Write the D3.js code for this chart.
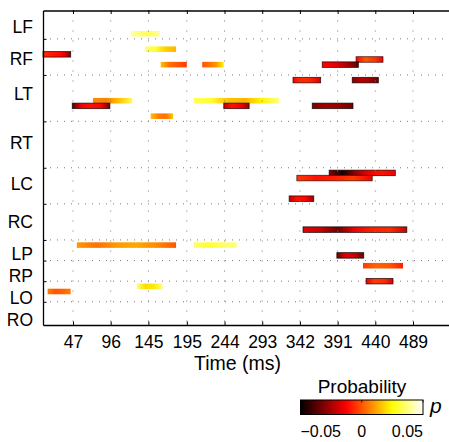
<!DOCTYPE html>
<html><head><meta charset="utf-8">
<script src="https://cdn.jsdelivr.net/npm/d3@7"></script>
<style>
html,body{margin:0;padding:0;background:#fff;}
svg{display:block;font-family:"Liberation Sans",Arial,sans-serif;}
</style></head>
<body>
<svg id="chart" width="449" height="442"></svg>
<script>
// ---------- data ----------
const regions = ["LF","RF","LT","RT","LC","RC","LP","RP","LO","RO"];
const regionLabelRows = [3.2, 9.4, 16.1, 25.7, 33.5, 41, 47.1, 51.5, 55.8, 60];
const gridRows = [5, 12, 21, 30, 37, 44, 48, 52, 56];
const timeTicks = [47, 96, 145, 195, 244, 293, 342, 391, 440, 489];
const colorTicks = [-0.05, 0, 0.05];
const colorTickLabels = ["\u22120.05", "0", "0.05"];

// one entry per bar: channel row, start (ms), end (ms), probability values along the bar
const barRows   = [4, 7, 8, 10, 10, 9, 10, 13, 13, 17, 17, 18, 18, 18, 20, 31, 32, 36, 42, 45, 45, 47, 49, 52, 53, 54];
const barStarts = [122, 141, 8, 161, 215, 415, 371, 333, 410, 73, 204, 46, 243, 358, 148, 380, 338, 328, 346, 52, 204, 390, 424, 428, 130, 14];
const barEnds   = [160, 181, 44, 195, 243, 450, 418, 369, 444, 124, 315, 95, 276, 411, 177, 466, 436, 360, 481, 181, 260, 425, 476, 463, 163, 44];
const barValues = [
  [0.042, 0.036, 0.034, 0.042],
  [0.036, 0.03, 0.018, 0.014],
  [-0.006, -0.009, -0.012, -0.03],
  [0.016, 0.004, 0.0, -0.004],
  [0.0, 0.004, 0.01, 0.024],
  [-0.012, 0.0, -0.004, -0.014],
  [-0.012, -0.016, -0.024, -0.036],
  [-0.012, -0.006, -0.008, -0.018],
  [-0.03, -0.024, -0.026, -0.034],
  [0.008, 0.006, 0.016, 0.034],
  [0.034, 0.03, 0.016, 0.014, 0.024, 0.038],
  [-0.038, -0.014, -0.01, -0.012, -0.034],
  [-0.022, -0.01, -0.014, -0.028],
  [-0.032, -0.026, -0.028, -0.034],
  [0.016, 0.006, 0.004, 0.016],
  [-0.03, -0.046, -0.028, -0.014, -0.01, -0.014],
  [-0.004, -0.01, -0.008, -0.004, -0.014],
  [-0.022, -0.01, -0.012, -0.026],
  [-0.016, -0.02, -0.034, -0.014, -0.008, -0.006, -0.02],
  [0.01, 0.004, 0.01, 0.012, 0.008, 0.0],
  [0.036, 0.03, 0.034, 0.038],
  [-0.034, -0.016, -0.02, -0.034],
  [-0.004, 0.002, 0.0, -0.008],
  [-0.016, -0.004, -0.006, -0.018],
  [0.036, 0.02, 0.022, 0.036],
  [0.006, 0.0, 0.002, 0.006]
];

// ---------- helpers ----------
function hot(v) {
  const t = Math.max(0, Math.min(1, (v + 0.05) / 0.1));
  const r = Math.min(1, t / 0.375);
  const g = Math.max(0, Math.min(1, (t - 0.375) / 0.375));
  const b = Math.max(0, Math.min(1, (t - 0.75) / 0.25));
  return d3.rgb(r * 255, g * 255, b * 255).formatHex();
}

const svg = d3.select("#chart");
const defs = svg.append("defs");

const x = d3.scaleLinear().domain([8, 544]).range([43, 455.3]);
const y = d3.scaleLinear().domain([0, 61]).range([10.5, 325]);

// ---------- bars ----------
const bars = barRows.map((r, i) => ({row: r, s: barStarts[i], e: barEnds[i], vals: barValues[i], id: "g" + i}));

bars.forEach(b => {
  const g = defs.append("linearGradient").attr("id", b.id)
    .attr("x1", "0%").attr("x2", "100%").attr("y1", "0%").attr("y2", "0%");
  b.vals.forEach((v, j) => {
    g.append("stop").attr("offset", (j / (b.vals.length - 1) * 100) + "%").attr("stop-color", hot(v));
  });
});

svg.append("g").selectAll("rect").data(bars).join("rect")
  .attr("x", d => x(d.s))
  .attr("width", d => x(d.e) - x(d.s))
  .attr("y", d => y(d.row) - 0.2)
  .attr("height", d => y(d.row + 1) - y(d.row) + 0.4)
  .attr("fill", d => `url(#${d.id})`)
  .attr("stroke", d => hot(d3.min(d.vals) - 0.03))
  .attr("stroke-opacity", d => d3.mean(d.vals) < -0.006 ? 0.8 : 0)
  .attr("stroke-width", 0.8);

// ---------- grid ----------
const grid = svg.append("g").attr("stroke", "#7a7a7a").attr("stroke-width", 1);
grid.selectAll("line.h").data(gridRows).join("line").attr("class", "h")
  .attr("x1", x.range()[0]).attr("x2", x.range()[1])
  .attr("y1", d => y(d + 0.5)).attr("y2", d => y(d + 0.5))
  .attr("stroke-dasharray", "1,6");
grid.selectAll("line.v").data(timeTicks).join("line").attr("class", "v")
  .attr("x1", d => x(d)).attr("x2", d => x(d))
  .attr("y1", y.range()[0]).attr("y2", y.range()[1])
  .attr("stroke-dasharray", "1,9");

// ---------- axes ----------
const axB = svg.append("g").attr("transform", `translate(0,${y.range()[1]})`)
  .call(d3.axisBottom(x).tickValues(timeTicks).tickSizeInner(-3.5).tickSizeOuter(0).tickPadding(11).tickFormat(d3.format("d")));
const axT = svg.append("g").attr("transform", `translate(0,${y.range()[0]})`)
  .call(d3.axisTop(x).tickValues(timeTicks).tickSizeInner(-3.5).tickSizeOuter(0).tickFormat(""));
const axL = svg.append("g").attr("transform", `translate(${x.range()[0]},0)`)
  .call(d3.axisLeft(y).tickValues(gridRows.map(r => r + 0.5)).tickSizeInner(-3.5).tickSizeOuter(0).tickFormat(""));
[axB, axT, axL].forEach(a => {
  a.selectAll("path.domain").attr("stroke", "#000").attr("stroke-width", 1.3);
  a.selectAll(".tick line").attr("stroke", "#000").attr("stroke-width", 1);
});
axB.selectAll("text").attr("font-size", 17.5).attr("fill", "#000")
  .attr("font-family", "'Liberation Sans', Arial, sans-serif");

// region labels
svg.append("g").selectAll("text").data(regions).join("text")
  .attr("x", 33).attr("y", (d, i) => y(regionLabelRows[i]))
  .attr("dy", "0.36em").attr("text-anchor", "end")
  .attr("font-size", 17.5).attr("fill", "#000").text(d => d);

// axis title
svg.append("text").attr("x", 237.5).attr("y", 370).attr("text-anchor", "middle")
  .attr("font-size", 19.5).attr("fill", "#000").text("Time (ms)");

// ---------- colorbar ----------
const cb = d3.scaleLinear().domain([colorTicks[0], colorTicks[2]]).range([300.5, 423]);
const cg = defs.append("linearGradient").attr("id", "cbar").attr("x1", "0%").attr("x2", "100%");
d3.range(0, 1.0001, 0.02).forEach(t => {
  cg.append("stop").attr("offset", (t * 100) + "%").attr("stop-color", hot(cb.domain()[0] + t * 0.1));
});
svg.append("rect").attr("x", cb.range()[0]).attr("y", 400).attr("width", cb.range()[1] - cb.range()[0]).attr("height", 14.5)
  .attr("fill", "url(#cbar)").attr("stroke", "#000").attr("stroke-width", 1);
svg.append("g").selectAll("line").data(colorTicks).join("line")
  .attr("x1", d => cb(d)).attr("x2", d => cb(d)).attr("y1", 400).attr("y2", 402.5)
  .attr("stroke", "#000").attr("stroke-width", 0.8);
svg.append("g").selectAll("text").data(colorTicks).join("text")
  .attr("x", d => cb(d)).attr("y", 437)
  .attr("text-anchor", (d, i) => i === 0 ? "start" : (i === colorTicks.length - 1 ? "end" : "middle"))
  .attr("font-size", 16).attr("fill", "#000").text((d, i) => colorTickLabels[i]);
svg.append("text").attr("x", 362).attr("y", 393).attr("text-anchor", "middle")
  .attr("font-size", 19).attr("fill", "#000").text("Probability");
svg.append("text").attr("x", 430).attr("y", 413).attr("font-size", 21).attr("font-style", "italic")
  .attr("fill", "#000").text("p");
</script>
</body></html>
